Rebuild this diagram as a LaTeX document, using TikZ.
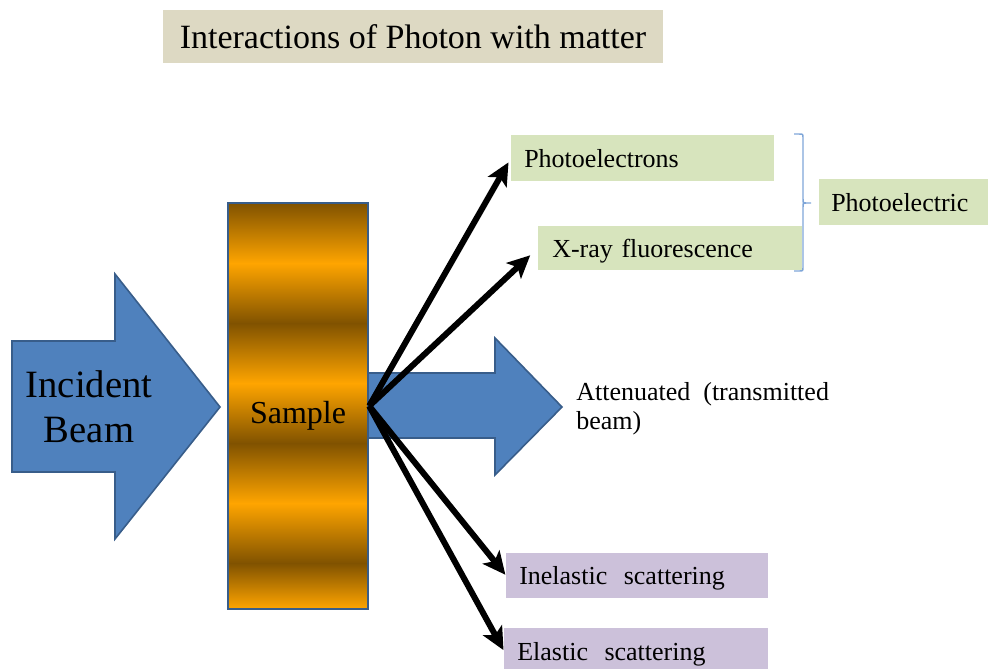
\documentclass[tikz,border=0pt]{standalone}
\usepackage{fontspec}
\setmainfont{Liberation Serif}
\usetikzlibrary{arrows.meta}
\definecolor{beamblue}{RGB}{79,129,189}
\definecolor{beamedge}{RGB}{56,93,138}
\definecolor{sampleL}{RGB}{255,165,0}
\definecolor{sampleD}{RGB}{128,82,0}
\definecolor{greenbox}{RGB}{215,228,189}
\definecolor{purplebox}{RGB}{204,193,218}
\definecolor{titlebox}{RGB}{221,217,195}
\definecolor{bracecol}{RGB}{127,166,216}
\begin{document}
\begin{tikzpicture}[x=0.75pt,y=-0.75pt,
  lbl/.style={font=\fontsize{19.5}{23}\selectfont},
  tagbox/.style={lbl, anchor=west, inner ysep=0pt, align=left, text height=13.5pt, text depth=0pt},
  beam/.style={fill=beamblue, draw=beamedge, line width=1.2pt, line join=miter},
  ray/.style={line width=4.5pt, -{Stealth[length=17pt, width=16pt, inset=4pt]}},
  bracket/.style={draw=bracecol, line width=1.1pt}
]
\useasboundingbox (0,0) rectangle (988,668);

% title
\node[fill=titlebox, minimum width=375pt, minimum height=39.75pt, inner sep=0pt,
      text height=17.25pt, text depth=0pt, font=\fontsize{25.5}{30}\selectfont]
  (title) at (413,36.5) {Interactions of Photon with matter};

% incident beam arrow
\draw[beam] (12,341) -- (115,341) -- (115,274) -- (220,407) -- (115,539) -- (115,472) -- (12,472) -- cycle;
\node[align=center, inner sep=0pt, font=\fontsize{29}{33.75}\selectfont] (inc) at (89,407) {Incident\\Beam};

% transmitted beam arrow
\draw[beam] (366,373) -- (495,373) -- (495,338) -- (562,407) -- (495,475) -- (495,438) -- (366,438) -- cycle;

% sample with stripes
\shade[top color=sampleD, bottom color=sampleL] (229,203) rectangle (367,263.5);
\shade[top color=sampleL, bottom color=sampleD] (229,263) rectangle (367,323.5);
\shade[top color=sampleD, bottom color=sampleL] (229,323) rectangle (367,383.5);
\shade[top color=sampleL, bottom color=sampleD] (229,383) rectangle (367,443.5);
\shade[top color=sampleD, bottom color=sampleL] (229,443) rectangle (367,503.5);
\shade[top color=sampleL, bottom color=sampleD] (229,503) rectangle (367,563.5);
\shade[top color=sampleD, bottom color=sampleL] (229,563) rectangle (367,609);
\node[draw=beamedge, line width=1.8pt, minimum width=105pt, minimum height=304.5pt, inner sep=0pt,
      text height=25.5pt, text depth=0pt, font=\fontsize{24}{28}\selectfont]
  (sample) at (298,406) {Sample};

% outcome boxes
\node[tagbox, fill=greenbox, text width=177.75pt, inner xsep=9.75pt, minimum height=34.5pt]
  (pe) at (511,158) {Photoelectrons};
\node[tagbox, fill=greenbox, text width=177pt, inner xsep=10.5pt, minimum height=33pt]
  (xr) at (538,248) {X-ray fluorescence};
\node[tagbox, fill=greenbox, text width=113.25pt, inner xsep=9pt, minimum height=34.5pt]
  (ph) at (819,202) {Photoelectric};
\node[tagbox, fill=purplebox, text width=177pt, inner xsep=9.75pt, minimum height=33.75pt]
  (inel) at (506,575.5) {Inelastic\hspace{0.3em} scattering};
\node[tagbox, fill=purplebox, text width=178.5pt, inner xsep=9.75pt, minimum height=34.5pt]
  (el) at (504,651) {Elastic\hspace{0.3em} scattering};

\node[lbl, font=\fontsize{19.5}{21.75}\selectfont, anchor=north west, inner sep=0pt, align=left]
  (att) at (576,382) {Attenuated\hspace{0.25em} (transmitted\\beam)};

% bracket
\draw[bracket] (794,134) -- (799,134) .. controls (803,134) .. (803,138) -- (803,199)
  .. controls (803,203) .. (806,203) -- (811,203);
\draw[bracket] (806,203) .. controls (803,203) .. (803,207) -- (803,267)
  .. controls (803,271) .. (799,271) -- (794,271);

% rays
\draw[ray, shorten >=3.75pt] (sample.east) -- (pe.west);
\draw[ray, shorten >=8pt] (sample.east) -- (xr.west);
\draw[ray, shorten >=0.75pt] (sample.east) -- (inel.west);
\draw[ray, shorten >=0.75pt] (sample.east) -- (el.west);
\end{tikzpicture}
\end{document}
